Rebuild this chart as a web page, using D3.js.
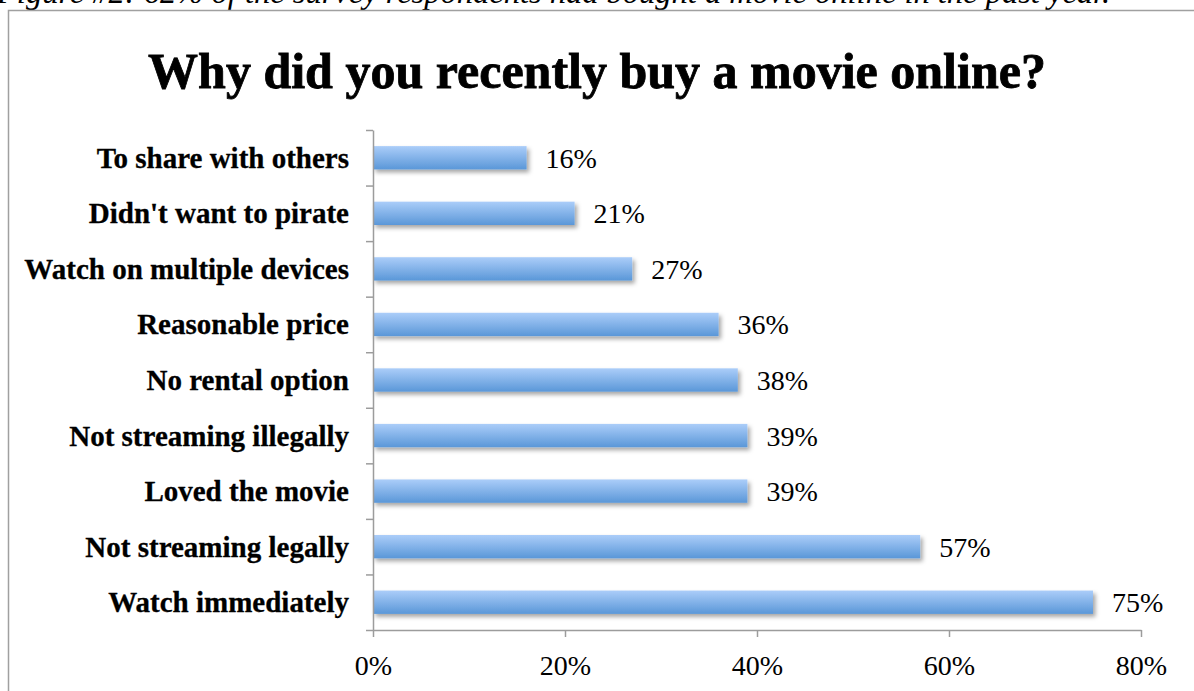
<!DOCTYPE html>
<html>
<head>
<meta charset="utf-8">
<script src="https://cdn.jsdelivr.net/npm/d3@7/dist/d3.min.js"></script>
<style>
  html, body { margin: 0; padding: 0; background: #fff; overflow: hidden; }
  svg { display: block; }
</style>
</head>
<body>
<svg id="chart" width="1194" height="691"></svg>
<script>
// Survey answers, listed top to bottom as they appear on the chart
const categories = [
  "To share with others",
  "Didn't want to pirate",
  "Watch on multiple devices",
  "Reasonable price",
  "No rental option",
  "Not streaming illegally",
  "Loved the movie",
  "Not streaming legally",
  "Watch immediately"
];
// Share of respondents (%) giving each reason
const values = [16, 21, 27, 36, 38, 39, 39, 57, 75];
const xTicks = [0, 20, 40, 60, 80];

const captionText = "Figure #2: 62% of the survey respondents had bought a movie online in the past year.";
const titleText = "Why did you recently buy a movie online?";

const svg = d3.select("#chart");
const W = 1194, H = 691;

const plot = { left: 373, right: 1141, top: 130, bottom: 630 };
const serif = "'Liberation Serif', 'Times New Roman', serif";
const axisColor = "#9c9c9c";

// Gradient fill and soft shadow for the bars
const defs = svg.append("defs");
const grad = defs.append("linearGradient")
  .attr("id", "barFill").attr("x1", 0).attr("y1", 0).attr("x2", 0).attr("y2", 1);
grad.append("stop").attr("offset", "0%").attr("stop-color", "#abcdf9");
grad.append("stop").attr("offset", "100%").attr("stop-color", "#5a97d8");

const shadow = defs.append("filter").attr("id", "barShadow")
  .attr("x", "-5%").attr("y", "-30%").attr("width", "115%").attr("height", "190%");
shadow.append("feDropShadow")
  .attr("dx", 2.5).attr("dy", 3).attr("stdDeviation", 2)
  .attr("flood-color", "#000").attr("flood-opacity", 0.35);

// Caption line above the framed chart (partly clipped at the top edge)
svg.append("text")
  .attr("x", -3).attr("y", 3)
  .attr("font-family", serif).attr("font-style", "italic")
  .attr("font-size", 32.5).attr("fill", "#000")
  .text(captionText);

// Chart frame
svg.append("rect")
  .attr("x", 8.5).attr("y", 10.5)
  .attr("width", W + 20).attr("height", H + 20)
  .attr("fill", "#fff").attr("stroke", "#a0a0a0").attr("stroke-width", 1.5);

// Title
svg.append("text")
  .attr("x", W / 2).attr("y", 88)
  .attr("text-anchor", "middle")
  .attr("font-family", serif).attr("font-weight", "bold")
  .attr("font-size", 50).attr("fill", "#000")
  .attr("stroke", "#000").attr("stroke-width", 0.8)
  .text(titleText);

// Scales
const x = d3.scaleLinear().domain([0, 80]).range([plot.left, plot.right]);
const y = d3.scaleBand().domain(categories)
  .range([plot.top, plot.bottom])
  .paddingInner(0.58).paddingOuter(0.29);
const slot = d3.scaleLinear().domain([0, categories.length]).range([plot.top, plot.bottom]);

// Bars
svg.append("g").selectAll("rect")
  .data(values)
  .join("rect")
  .attr("x", x(0))
  .attr("y", (d, i) => y(categories[i]))
  .attr("width", d => x(d) - x(0))
  .attr("height", y.bandwidth())
  .attr("fill", "url(#barFill)")
  .attr("filter", "url(#barShadow)");

// Value labels
svg.append("g").selectAll("text")
  .data(values)
  .join("text")
  .attr("x", d => x(d) + 19)
  .attr("y", (d, i) => y(categories[i]) + y.bandwidth() / 2 + 10)
  .attr("font-family", serif).attr("font-size", 28).attr("fill", "#000")
  .text(d => d + "%");

// Vertical category axis with ticks between categories
const yAxis = svg.append("g")
  .attr("transform", `translate(${plot.left},0)`)
  .call(d3.axisLeft(slot).tickValues(d3.range(categories.length + 1))
    .tickFormat("").tickSize(7).tickSizeOuter(0));
yAxis.selectAll("path, line").attr("stroke", axisColor).attr("stroke-width", 1.5);

// Category labels
svg.append("g").selectAll("text")
  .data(categories)
  .join("text")
  .attr("x", 349)
  .attr("y", d => y(d) + y.bandwidth() / 2 + 10)
  .attr("text-anchor", "end")
  .attr("font-family", serif).attr("font-weight", "bold")
  .attr("font-size", 29).attr("fill", "#000")
  .attr("stroke", "#000").attr("stroke-width", 0.3)
  .text(d => d);

// Horizontal percentage axis
const xAxis = svg.append("g")
  .attr("transform", `translate(0,${plot.bottom})`)
  .call(d3.axisBottom(x).tickValues(xTicks)
    .tickFormat(d => d + "%").tickSize(7).tickSizeOuter(0));
xAxis.selectAll("path, line").attr("stroke", axisColor).attr("stroke-width", 1.5);
xAxis.selectAll("text")
  .attr("y", 45).attr("dy", null)
  .attr("font-family", serif).attr("font-size", 28).attr("fill", "#000");
</script>
</body>
</html>
